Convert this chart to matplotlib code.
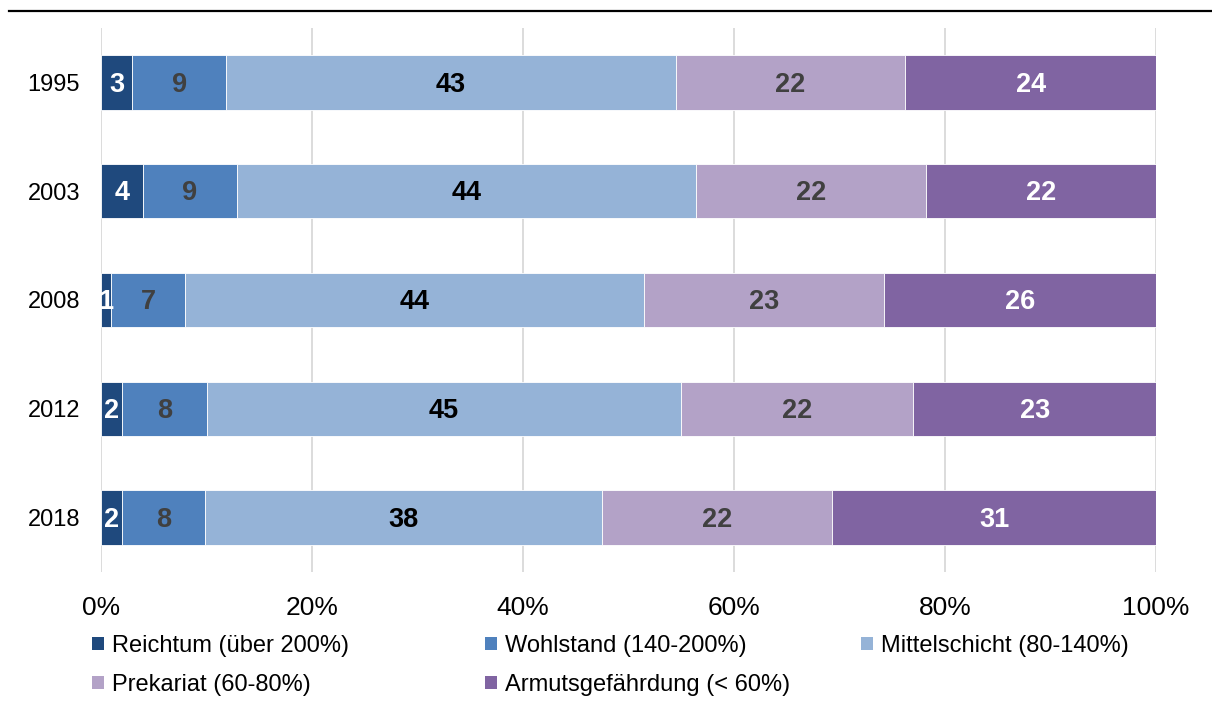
import numpy as np
import matplotlib
matplotlib.use("Agg")
import matplotlib.pyplot as plt
from matplotlib.patches import Patch
from matplotlib.lines import Line2D

plt.rcParams['font.family'] = ['Liberation Sans', 'DejaVu Sans']

years = ["1995", "2003", "2008", "2012", "2018"]
schichten = ["Reichtum (über 200%)", "Wohlstand (140-200%)", "Mittelschicht (80-140%)",
             "Prekariat (60-80%)", "Armutsgefährdung (< 60%)"]

# Anteile je Jahr in Prozent (gerundet)
reichtum = [3, 4, 1, 2, 2]
wohlstand = [9, 9, 7, 8, 8]
mittelschicht = [43, 44, 44, 45, 38]
prekariat = [22, 22, 23, 22, 22]
armut = [24, 22, 26, 23, 31]

farben = ["#1F497D", "#4F81BD", "#95B3D7", "#B3A2C7", "#8064A2"]
textfarben = ["white", "#404040", "black", "#404040", "white"]

werte = np.array([reichtum, wohlstand, mittelschicht, prekariat, armut], dtype=float)
anteile = werte / werte.sum(axis=0)  # 100%-gestapelt

fig = plt.figure(figsize=(12.12, 7.09), dpi=100)
ax = fig.add_axes([101 / 1212, 1 - 572 / 709, 1055 / 1212, 544 / 709])

y = np.arange(len(years))
links = np.zeros(len(years))
for i in range(len(schichten)):
    ax.barh(y, anteile[i], left=links, height=0.5, color=farben[i],
            edgecolor="white", linewidth=0.6, zorder=3)
    for j in range(len(years)):
        ax.text(links[j] + anteile[i][j] / 2, y[j] + 0.02, f"{int(werte[i][j])}",
                ha="center", va="center", fontsize=19.5, fontweight="bold",
                color=textfarben[i], zorder=4)
    links += anteile[i]

ax.set_xlim(0, 1)
ax.set_ylim(len(years) - 0.5, -0.5)
ax.set_yticks(y)
ax.set_yticklabels(years, fontsize=17)
ax.set_xticks(np.arange(0, 1.01, 0.2))
ax.set_xticklabels([f"{int(round(t * 100))}%" for t in np.arange(0, 1.01, 0.2)], fontsize=19)
ax.tick_params(axis="both", length=0)
ax.tick_params(axis="x", pad=17)
ax.tick_params(axis="y", pad=15)
ax.grid(axis="x", color="#D9D9D9", linewidth=1.3, zorder=0)
for s in ax.spines.values():
    s.set_visible(False)

# Linie unter dem Titel
fig.add_artist(Line2D([9 / 1212, 1.0], [1 - 11 / 709, 1 - 11 / 709],
                      color="black", linewidth=1.6))

# Legende in drei Spalten
spalten = [[0, 3], [1, 4], [2]]
spalten_x = [92 / 1212, 485 / 1212, 861 / 1212]
for idx, x0 in zip(spalten, spalten_x):
    handles = [Patch(facecolor=farben[k], edgecolor="none") for k in idx]
    labels = [schichten[k] for k in idx]
    fig.legend(handles, labels, loc="upper left", bbox_to_anchor=(x0, 1 - 635 / 709),
               frameon=False, fontsize=17, handlelength=0.5, handleheight=0.5,
               handletextpad=0.35, borderpad=0, borderaxespad=0, labelspacing=0.72)

fig.savefig("out.png", dpi=100)
